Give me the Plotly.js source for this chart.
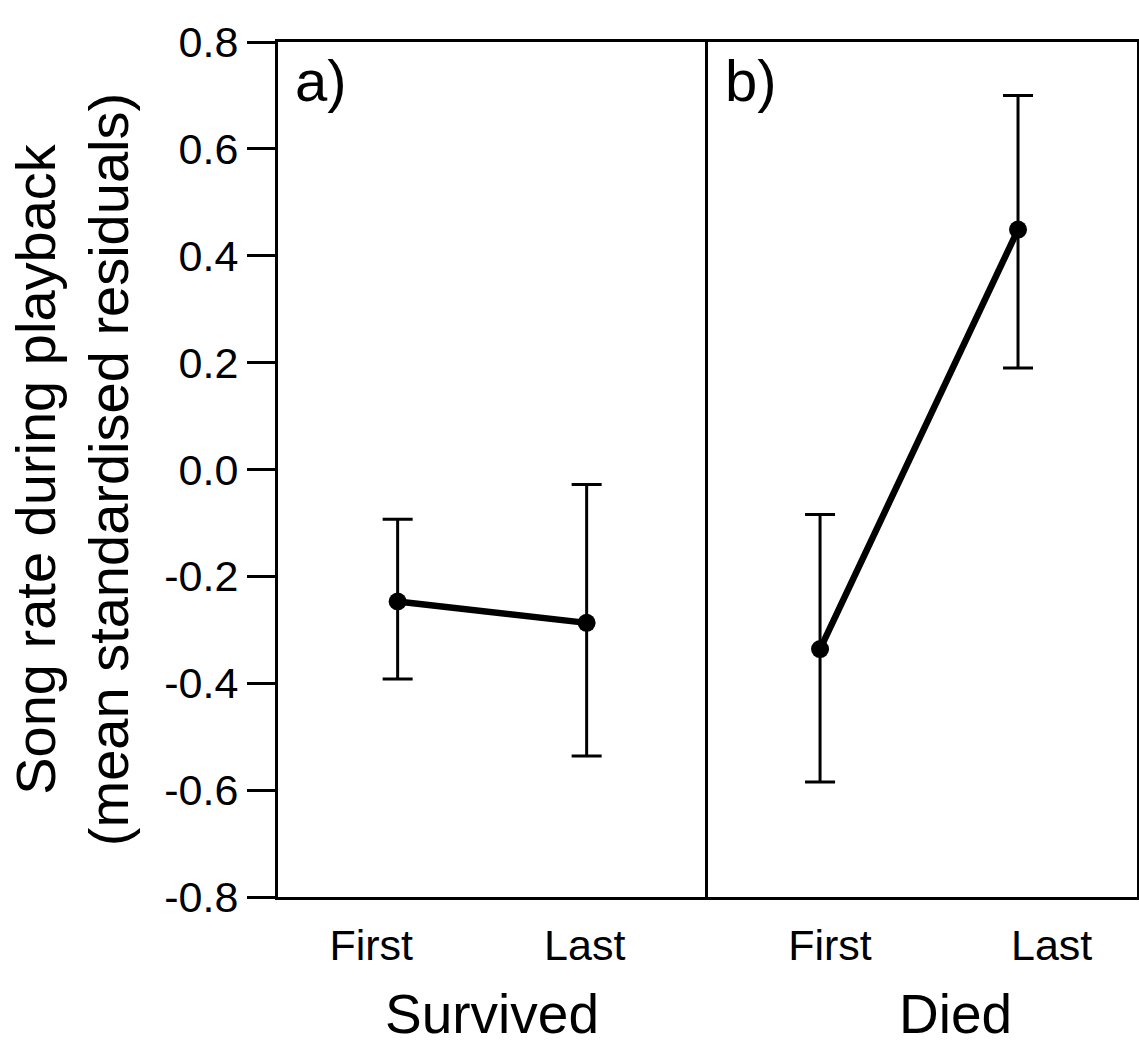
<!DOCTYPE html>
<html>
<head>
<meta charset="utf-8">
<script src="https://cdn.plot.ly/plotly-3.0.1.min.js"></script>
<style>html,body{margin:0;padding:0;background:#fff;}#chart{width:1139px;height:1047px;}</style>
</head>
<body>
<div id="chart"></div>
<script>
// ---- data ----
const categories = ['First', 'Last'];
const groups = ['Survived', 'Died'];
const panelLabels = ['a)', 'b)'];

const meanSurvived = [-0.247, -0.287];
const upperSurvived = [-0.093, -0.028];
const lowerSurvived = [-0.392, -0.536];

const meanDied = [-0.336, 0.449];
const upperDied = [-0.084, 0.700];
const lowerDied = [-0.585, 0.190];

const yTickVals = [-0.8, -0.6, -0.4, -0.2, 0.0, 0.2, 0.4, 0.6, 0.8];
const yTickText = ['-0.8', '-0.6', '-0.4', '-0.2', '0.0', '0.2', '0.4', '0.6', '0.8'];

// label positions (slightly offset from points as in the original)
const tickPosA = [-0.14, 0.99];
const tickPosB = [0.05, 1.17];

// ---- build ----
const FONT = 'Liberation Sans, Arial, Helvetica, sans-serif';
const xIdx = categories.map((c, i) => i);

function trace(mean, upper, lower, xa, ya) {
  return {
    type: 'scatter', mode: 'lines+markers',
    x: xIdx, y: mean, xaxis: xa, yaxis: ya,
    line: {color: '#000', width: 6.5},
    marker: {color: '#000', size: 18},
    error_y: {
      type: 'data', symmetric: false,
      array: upper.map((u, i) => u - mean[i]),
      arrayminus: mean.map((m, i) => m - lower[i]),
      color: '#000', thickness: 3, width: 15
    },
    hoverinfo: 'skip', showlegend: false
  };
}

const data = [
  trace(meanSurvived, upperSurvived, lowerSurvived, 'x', 'y'),
  trace(meanDied, upperDied, lowerDied, 'x2', 'y2')
];

const split = 430 / 859;
const yCommon = {
  range: [-0.8, 0.8], showgrid: false, zeroline: false,
  showline: true, linecolor: '#000', linewidth: 3
};

const layout = {
  width: 1139, height: 1047,
  margin: {l: 278, r: 2, t: 42, b: 150},
  paper_bgcolor: '#fff', plot_bgcolor: '#fff',
  font: {family: FONT, color: '#000'},
  xaxis: {
    domain: [0, split], range: [-0.633, 1.642],
    tickvals: tickPosA, ticktext: categories, ticks: '',
    tickfont: {size: 43, family: FONT}, ticklabelstandoff: 8,
    showgrid: false, zeroline: false,
    showline: true, linecolor: '#000', linewidth: 3, mirror: true
  },
  xaxis2: {
    domain: [split, 1], range: [-0.566, 1.601], anchor: 'y2',
    tickvals: tickPosB, ticktext: categories, ticks: '',
    tickfont: {size: 43, family: FONT}, ticklabelstandoff: 8,
    showgrid: false, zeroline: false,
    showline: true, linecolor: '#000', linewidth: 3, mirror: true
  },
  yaxis: Object.assign({}, yCommon, {
    anchor: 'x', mirror: false,
    tickvals: yTickVals, ticktext: yTickText,
    ticks: 'outside', ticklen: 28, tickwidth: 3, tickcolor: '#000',
    tickfont: {size: 43, family: FONT},
    title: {text: 'Song rate during playback<br>(mean standardised residuals)', font: {size: 56, family: FONT}, standoff: 18}
  }),
  yaxis2: Object.assign({}, yCommon, {
    anchor: 'x2', matches: 'y', mirror: true, showticklabels: false, ticks: ''
  }),
  annotations: [
    {text: panelLabels[0], xref: 'paper', yref: 'paper', x: 0.018, y: 0.995, xanchor: 'left', yanchor: 'top', showarrow: false, font: {size: 58, family: FONT}},
    {text: panelLabels[1], xref: 'paper', yref: 'paper', x: split + 0.017, y: 0.995, xanchor: 'left', yanchor: 'top', showarrow: false, font: {size: 58, family: FONT}},
    {text: groups[0], xref: 'paper', yref: 'paper', x: 0.249, y: -0.1754, xanchor: 'center', yanchor: 'bottom', showarrow: false, font: {size: 55, family: FONT}},
    {text: groups[1], xref: 'paper', yref: 'paper', x: 0.789, y: -0.1754, xanchor: 'center', yanchor: 'bottom', showarrow: false, font: {size: 55, family: FONT}}
  ]
};

Plotly.newPlot('chart', data, layout, {displayModeBar: false, staticPlot: true});
</script>
</body>
</html>
